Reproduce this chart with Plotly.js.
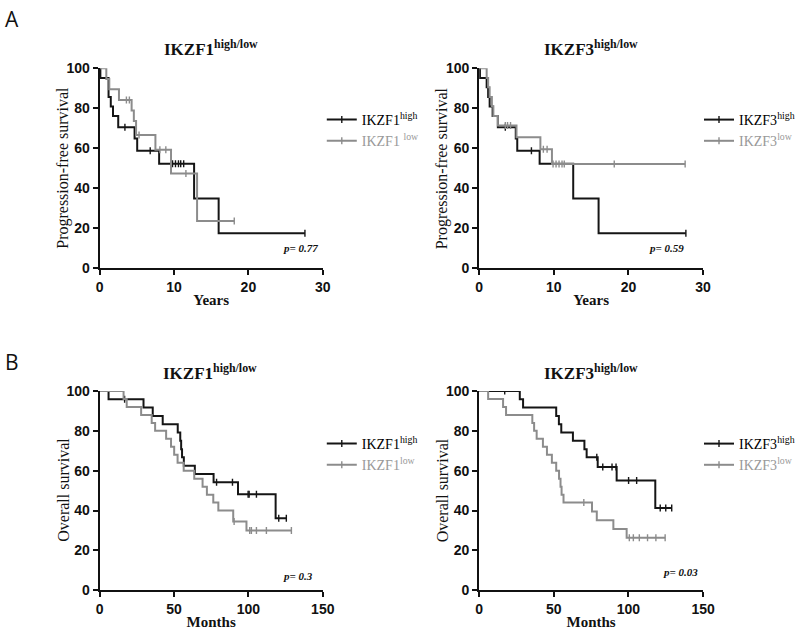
<!DOCTYPE html>
<html>
<head>
<meta charset="utf-8">
<script src="https://cdn.plot.ly/plotly-3.0.1.min.js"></script>
<style>html,body{margin:0;padding:0;background:#fff;}#chart{width:800px;height:630px;}</style>
</head>
<body>
<div id="chart"></div>
<script>
// ---------- Data ----------
// A: progression-free survival (years)
var pfsF1HighT = [0.1, 1.2, 1.5, 1.8, 2.5, 4.7, 5.05, 8.0, 12.7, 16.0];
var pfsF1HighS = [95.2, 85.7, 80.9, 76.2, 70.5, 64.9, 58.8, 52.3, 34.9, 17.5];
var pfsF1HighC = [3.4, 6.8, 9.8, 10.2, 10.6, 10.9, 11.3, 27.6];
var pfsF1LowT = [0.9, 1.3, 2.6, 4.3, 4.6, 4.9, 7.5, 9.6, 13.1];
var pfsF1LowS = [94.7, 89.5, 84.2, 78.9, 73.7, 66.7, 59.3, 47.4, 23.7];
var pfsF1LowC = [3.6, 4.0, 5.3, 8.1, 8.9, 11.6, 18.1];

var pfsF3HighT = [0.1, 1.0, 1.2, 1.4, 1.8, 2.5, 4.9, 5.1, 8.1, 12.6, 16.0];
var pfsF3HighS = [95.2, 90.5, 85.7, 80.9, 76.2, 70.5, 64.9, 58.8, 52.3, 34.9, 17.5];
var pfsF3HighC = [3.5, 7.0, 27.7];
var pfsF3LowT = [1.0, 1.2, 1.4, 1.7, 1.9, 2.5, 5.0, 8.2, 9.75];
var pfsF3LowS = [95.2, 90.5, 85.7, 81.0, 76.2, 71.4, 65.5, 59.5, 52.2];
var pfsF3LowC = [3.5, 3.8, 4.2, 8.6, 9.1, 9.9, 10.3, 10.7, 11.1, 11.4, 18.1, 27.6];

// B: overall survival (months)
var osF1HighT = [6, 29.5, 35.7, 42.4, 52.5, 54.2, 54.8, 55.4, 56.6, 64.0, 76.6, 93.0, 118.3];
var osF1HighS = [95.8, 91.7, 87.5, 83.3, 79.2, 75.0, 70.8, 66.7, 62.5, 58.3, 54.2, 48.2, 36.2];
var osF1HighC = [16.8, 78.6, 89.3, 99.8, 100.5, 105.4, 120.4, 125.5];
var osF1LowT = [16.1, 18.2, 27.9, 35.0, 37.3, 44.7, 48.0, 50.1, 52.4, 56.5, 63.6, 69.2, 72.1, 76.4, 79.8, 89.8, 98.7];
var osF1LowS = [96, 92, 88, 84, 80, 76, 72, 68, 64, 60, 56, 52, 48, 44, 40, 34.5, 30];
var osF1LowC = [90.4, 100.9, 102.0, 105.4, 112.1, 128.9];

var osF3HighT = [27.2, 29.4, 51.6, 53.4, 55.0, 62.8, 70.5, 72.0, 79.4, 92.1, 118.0];
var osF3HighS = [95.8, 91.7, 87.5, 83.3, 79.2, 75.0, 70.8, 66.7, 61.9, 55.1, 41.3];
var osF3HighC = [17.1, 78.8, 82.8, 89.0, 91.7, 100.1, 105.5, 121.3, 125.0, 129.0];
var osF3LowT = [6, 16, 18, 35.6, 36.8, 38.5, 42.7, 45.4, 48.7, 51.6, 53.5, 54.5, 55.2, 56.5, 75.6, 78.8, 89.9, 98.8];
var osF3LowS = [96, 92, 88, 84, 80, 76, 72, 68, 64, 60, 56, 52, 48, 44, 39.6, 35.2, 30.8, 26.4];
var osF3LowC = [70.1, 100.6, 103.3, 107.3, 112.8, 118.4, 124.6];

var panelTitles = ['IKZF1', 'IKZF3', 'IKZF1', 'IKZF3'];
var yTitles = ['Progression-free survival', 'Progression-free survival', 'Overall survival', 'Overall survival'];
var pValues = ['p= 0.77', 'p= 0.59', 'p= 0.3', 'p= 0.03'];
var xTickVals = [[0, 10, 20, 30], [0, 10, 20, 30], [0, 50, 100, 150], [0, 50, 100, 150]];
var yTickVals = [0, 20, 40, 60, 80, 100];

// ---------- Helpers ----------
var BLACK = '#151515', GRAY = '#8c8c8c';
function survAt(T, S, t) { var s = 100; for (var i = 0; i < T.length; i++) { if (T[i] <= t) s = S[i]; } return s; }
function kmTraces(T, S, C, color, ax, legendId, name) {
  var end = Math.max(T[T.length - 1], C.length ? C[C.length - 1] : 0);
  var x = [0].concat(T).concat([end]);
  var y = [100].concat(S).concat([S[S.length - 1]]);
  var line = {
    x: x, y: y, mode: 'lines', line: {shape: 'hv', color: color, width: 2},
    xaxis: 'x' + ax, yaxis: 'y' + ax, showlegend: false, hoverinfo: 'skip'
  };
  var cens = {
    x: C, y: C.map(function (t) { return survAt(T, S, t); }), mode: 'markers',
    marker: {symbol: 'line-ns-open', size: 5, color: color, line: {color: color, width: 1.4}},
    xaxis: 'x' + ax, yaxis: 'y' + ax, showlegend: false, hoverinfo: 'skip'
  };
  var leg = {
    x: [null], y: [null], mode: 'lines+markers', name: name,
    line: {color: color, width: 2},
    marker: {symbol: 'line-ns-open', size: 5, color: color, line: {color: color, width: 1.4}},
    xaxis: 'x' + ax, yaxis: 'y' + ax, legend: legendId, showlegend: true
  };
  return [line, cens, leg];
}
function nm(gene, lvl, color) {
  return '<span style="color:' + color + '">' + gene + '<sup>' + lvl + '</sup></span>';
}

var data = [];
data = data.concat(kmTraces(pfsF1HighT, pfsF1HighS, pfsF1HighC, BLACK, '', 'legend', nm('IKZF1', 'high', '#000')));
data = data.concat(kmTraces(pfsF1LowT, pfsF1LowS, pfsF1LowC, GRAY, '', 'legend', nm('IKZF1 ', 'low', '#999')));
data = data.concat(kmTraces(pfsF3HighT, pfsF3HighS, pfsF3HighC, BLACK, '2', 'legend2', nm('IKZF3', 'high', '#000')));
data = data.concat(kmTraces(pfsF3LowT, pfsF3LowS, pfsF3LowC, GRAY, '2', 'legend2', nm('IKZF3', 'low', '#999')));
data = data.concat(kmTraces(osF1HighT, osF1HighS, osF1HighC, BLACK, '3', 'legend3', nm('IKZF1', 'high', '#000')));
data = data.concat(kmTraces(osF1LowT, osF1LowS, osF1LowC, GRAY, '3', 'legend3', nm('IKZF1', 'low', '#999')));
data = data.concat(kmTraces(osF3HighT, osF3HighS, osF3HighC, BLACK, '4', 'legend4', nm('IKZF3', 'high', '#000')));
data = data.concat(kmTraces(osF3LowT, osF3LowS, osF3LowC, GRAY, '4', 'legend4', nm('IKZF3', 'low', '#999')));

// ---------- Layout ----------
var W = 800, H = 630;
function px(v) { return v / W; }
function py(v) { return (H - v) / H; }
var tickFont = {family: 'Liberation Sans', size: 14, color: '#111'};
var serif = 'Liberation Serif';
function bold(arr) { return arr.map(function (v) { return '<b>' + v + '</b>'; }); }
function xAx(dom, range, ticks, title, anchor) {
  return {
    domain: dom, range: range, tickvals: ticks, ticktext: bold(ticks), showline: true, linewidth: 2, linecolor: '#111',
    ticks: 'outside', ticklen: 5, tickwidth: 2, tickcolor: '#111', showgrid: false, zeroline: false,
    tickfont: tickFont, anchor: anchor, fixedrange: true,
    title: {text: '<b>' + title + '</b>', font: {family: serif, size: 15, color: '#111'}, standoff: 0}
  };
}
function yAx(dom, anchor) {
  return {
    domain: dom, range: [0, 100], tickvals: yTickVals, ticktext: bold(yTickVals), showline: true, linewidth: 2, linecolor: '#111',
    ticks: 'outside', ticklen: 5, tickwidth: 2, tickcolor: '#111', showgrid: false, zeroline: false,
    tickfont: tickFont, anchor: anchor, fixedrange: true
  };
}
var xdomL = [px(100), px(324)], xdomR = [px(481), px(705.7)];
var ydomT = [py(268.3), py(68.3)], ydomB = [py(590.3), py(391)];

function legendAt(xp, ytop) {
  return {x: px(xp), y: py(ytop), xanchor: 'left', yanchor: 'top', bgcolor: 'rgba(0,0,0,0)',
    font: {family: serif, size: 14, color: '#000'}, tracegroupgap: 0, itemwidth: 30, traceorder: 'normal'};
}

var annotations = [];
var titleCenters = [[212, 48], [593, 48], [211, 372], [593, 372]];
titleCenters.forEach(function (c, i) {
  annotations.push({xref: 'paper', yref: 'paper', x: px(c[0]), y: py(c[1]), xanchor: 'center', yanchor: 'middle',
    text: '<b>' + panelTitles[i] + '<sup>high/low</sup></b>', showarrow: false,
    font: {family: serif, size: 17, color: '#111'}});
});
var yTitlePos = [[63, 168], [444, 168], [63, 490], [444, 490]];
yTitlePos.forEach(function (c, i) {
  annotations.push({xref: 'paper', yref: 'paper', x: px(c[0]), y: py(c[1]), xanchor: 'center', yanchor: 'middle',
    text: yTitles[i], textangle: -90, showarrow: false,
    font: {family: serif, size: 16, color: '#111'}});
});
var pPos = [[282, 248.3], [649, 248], [282, 576], [663, 572]];
pPos.forEach(function (c, i) {
  annotations.push({xref: 'paper', yref: 'paper', x: px(c[0]), y: py(c[1]), xanchor: 'left', yanchor: 'middle',
    text: '<b><i>' + pValues[i] + '</i></b>', showarrow: false,
    font: {family: serif, size: 11, color: '#111'}});
});
annotations.push({xref: 'paper', yref: 'paper', x: px(3), y: py(18.5), xanchor: 'left', yanchor: 'middle',
  text: 'A', showarrow: false, font: {family: 'Open Sans, sans-serif', size: 21, color: '#111'}});
annotations.push({xref: 'paper', yref: 'paper', x: px(3), y: py(361.5), xanchor: 'left', yanchor: 'middle',
  text: 'B', showarrow: false, font: {family: 'Open Sans, sans-serif', size: 21, color: '#111'}});

var layout = {
  width: W, height: H, margin: {l: 0, r: 0, t: 0, b: 0},
  paper_bgcolor: '#fff', plot_bgcolor: 'rgba(0,0,0,0)', showlegend: true,
  xaxis: xAx(xdomL, [0, 30], xTickVals[0], 'Years', 'y'),
  yaxis: yAx(ydomT, 'x'),
  xaxis2: xAx(xdomR, [0, 30], xTickVals[1], 'Years', 'y2'),
  yaxis2: yAx(ydomT, 'x2'),
  xaxis3: xAx(xdomL, [0, 150], xTickVals[2], 'Months', 'y3'),
  yaxis3: yAx(ydomB, 'x3'),
  xaxis4: xAx(xdomR, [0, 150], xTickVals[3], 'Months', 'y4'),
  yaxis4: yAx(ydomB, 'x4'),
  legend: legendAt(323, 104),
  legend2: legendAt(702, 104),
  legend3: legendAt(323, 428),
  legend4: legendAt(702, 428),
  annotations: annotations
};

Plotly.newPlot('chart', data, layout, {displayModeBar: false, staticPlot: true});
</script>
</body>
</html>
